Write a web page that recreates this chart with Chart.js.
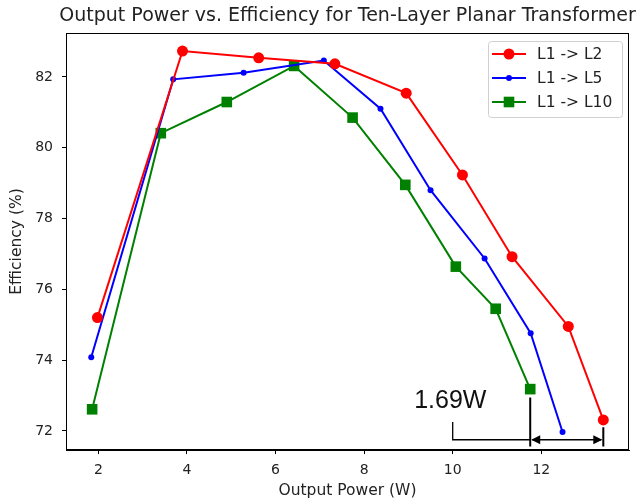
<!DOCTYPE html>
<html>
<head>
<meta charset="utf-8">
<script src="https://cdn.jsdelivr.net/npm/chart.js@4/dist/chart.umd.min.js"></script>
<style>
  html, body { margin: 0; padding: 0; background: #fff; }
  #wrap { width: 639px; height: 504px; }
</style>
</head>
<body>
<div id="wrap"><canvas id="chart"></canvas></div>
<script>
// ---- data ----
const seriesNames = ['L1 -> L2', 'L1 -> L5', 'L1 -> L10'];

const powerL2  = [1.98, 3.90, 5.62, 7.34, 8.95, 10.22, 11.34, 12.61, 13.40];
const effL2    = [75.20, 82.73, 82.54, 82.37, 81.54, 79.23, 76.92, 74.95, 72.31];

const powerL5  = [1.84, 3.69, 5.28, 7.09, 8.37, 9.50, 10.72, 11.76, 12.48];
const effL5    = [74.08, 81.93, 82.12, 82.46, 81.10, 78.80, 76.87, 74.76, 71.97];

const powerL10 = [1.86, 3.41, 4.90, 6.42, 7.74, 8.93, 10.07, 10.97, 11.75];
const effL10   = [72.61, 80.41, 81.29, 82.31, 80.85, 78.95, 76.64, 75.45, 73.18];

const xTicks = [2, 4, 6, 8, 10, 12];
const yTicks = [72, 74, 76, 78, 80, 82];

// annotation: gap between L1->L10 and L1->L2 at the last point
const gapLabel = '1.69W';
const gapFrom = powerL10[powerL10.length - 1];
const gapTo = powerL2[powerL2.length - 1];

const FONT = "'DejaVu Sans', sans-serif";

function toPoints(xs, ys) {
    return xs.map((x, i) => ({ x: x, y: ys[i] }));
}

// frame, legend and the gap annotation
const extras = {
    id: 'extras',
    afterDatasetsDraw(chart) {
        const { ctx, chartArea: a, scales: { x, y } } = chart;
        ctx.save();

        // box round the plot
        ctx.strokeStyle = '#000';
        ctx.lineWidth = 1;
        ctx.strokeRect(a.left + 0.5, a.top + 0.5, a.right - a.left - 1, a.bottom - a.top - 1);

        // gap annotation
        const px1 = x.getPixelForValue(gapFrom);
        const px2 = x.getPixelForValue(gapTo);
        const px0 = x.getPixelForValue(10);
        const yArrow = y.getPixelForValue(71.75);
        ctx.strokeStyle = '#000';
        ctx.fillStyle = '#000';
        ctx.lineWidth = 2;
        ctx.beginPath();
        ctx.moveTo(px1, y.getPixelForValue(72.94));
        ctx.lineTo(px1, y.getPixelForValue(71.56));
        ctx.moveTo(px2, y.getPixelForValue(72.10));
        ctx.lineTo(px2, y.getPixelForValue(71.56));
        ctx.stroke();
        ctx.lineWidth = 1.3;
        ctx.beginPath();
        ctx.moveTo(px0, y.getPixelForValue(72.25));
        ctx.lineTo(px0, yArrow);
        ctx.lineTo(px1, yArrow);
        ctx.moveTo(px1 + 2, yArrow);
        ctx.lineTo(px2 - 2, yArrow);
        ctx.stroke();
        // arrow heads
        ctx.beginPath();
        ctx.moveTo(px1 + 1, yArrow);
        ctx.lineTo(px1 + 10, yArrow - 4.5);
        ctx.lineTo(px1 + 10, yArrow + 4.5);
        ctx.closePath();
        ctx.moveTo(px2 - 1, yArrow);
        ctx.lineTo(px2 - 10, yArrow - 4.5);
        ctx.lineTo(px2 - 10, yArrow + 4.5);
        ctx.closePath();
        ctx.fill();

        ctx.font = "25px 'Liberation Sans', sans-serif";
        ctx.textAlign = 'left';
        ctx.textBaseline = 'alphabetic';
        ctx.fillStyle = '#111';
        ctx.fillText(gapLabel, x.getPixelForValue(9.13), y.getPixelForValue(72.65));

        // legend
        const lx = 488, ly = 41, lw = 134, lh = 76;
        ctx.fillStyle = 'rgba(255,255,255,0.8)';
        ctx.strokeStyle = '#d0d0d0';
        ctx.lineWidth = 1;
        ctx.beginPath();
        ctx.roundRect(lx + 0.5, ly + 0.5, lw, lh, 3);
        ctx.fill();
        ctx.stroke();

        ctx.font = '15.5px ' + FONT;
        ctx.textBaseline = 'middle';
        chart.data.datasets.forEach((ds, i) => {
            const ey = 54 + i * 24;
            ctx.strokeStyle = ds.borderColor;
            ctx.lineWidth = 2;
            ctx.beginPath();
            ctx.moveTo(492, ey);
            ctx.lineTo(526, ey);
            ctx.stroke();
            ctx.fillStyle = ds.pointBackgroundColor;
            Chart.helpers.drawPoint(ctx, {
                pointStyle: ds.pointStyle,
                radius: ds.pointRadius,
                rotation: 0,
                borderWidth: 0
            }, 509, ey);
            ctx.fillStyle = '#222';
            ctx.fillText(ds.label, 537, ey + 1);
        });

        ctx.restore();
    }
};

new Chart(document.getElementById('chart'), {
    type: 'scatter',
    data: {
        datasets: [
            {
                label: seriesNames[0],
                data: toPoints(powerL2, effL2),
                showLine: true,
                borderColor: '#ff0000',
                backgroundColor: '#ff0000',
                pointBackgroundColor: '#ff0000',
                pointBorderColor: '#ff0000',
                borderWidth: 2,
                pointStyle: 'circle',
                pointRadius: 5.5,
                pointBorderWidth: 0,
                tension: 0
            },
            {
                label: seriesNames[1],
                data: toPoints(powerL5, effL5),
                showLine: true,
                borderColor: '#0000ff',
                backgroundColor: '#0000ff',
                pointBackgroundColor: '#0000ff',
                pointBorderColor: '#0000ff',
                borderWidth: 2,
                pointStyle: 'circle',
                pointRadius: 3,
                pointBorderWidth: 0,
                tension: 0
            },
            {
                label: seriesNames[2],
                data: toPoints(powerL10, effL10),
                showLine: true,
                borderColor: '#008000',
                backgroundColor: '#008000',
                pointBackgroundColor: '#008000',
                pointBorderColor: '#008000',
                borderWidth: 2,
                pointStyle: 'rect',
                pointRadius: 7.5,
                pointBorderWidth: 0,
                tension: 0
            }
        ]
    },
    options: {
        responsive: true,
        maintainAspectRatio: false,
        animation: false,
        devicePixelRatio: 1,
        layout: { padding: { top: 33, right: 10, left: 0, bottom: 0 } },
        plugins: {
            legend: { display: false },
            tooltip: { enabled: false },
            title: { display: false }
        },
        scales: {
            x: {
                type: 'linear',
                min: 1.27,
                max: 13.98,
                afterFit: s => { s.height = 54; },
                afterBuildTicks: s => { s.ticks = xTicks.map(v => ({ value: v })); },
                grid: { drawOnChartArea: false, drawTicks: true, tickLength: 4, color: '#000' },
                border: { color: '#000' },
                ticks: { color: '#222', font: { family: FONT, size: 14 }, padding: 8, maxRotation: 0 },
                title: {
                    display: true,
                    text: 'Output Power (W)',
                    color: '#222',
                    font: { family: FONT, size: 15.5 },
                    padding: { top: 0, bottom: 4 }
                }
            },
            y: {
                type: 'linear',
                min: 71.46,
                max: 83.24,
                afterFit: s => { s.width = 66; },
                afterBuildTicks: s => { s.ticks = yTicks.map(v => ({ value: v })); },
                grid: { drawOnChartArea: false, drawTicks: true, tickLength: 4, color: '#000' },
                border: { color: '#000' },
                ticks: { color: '#222', font: { family: FONT, size: 14 }, padding: 9 },
                title: {
                    display: true,
                    text: 'Efficiency (%)',
                    color: '#222',
                    font: { family: FONT, size: 15.5 },
                    padding: { top: 8, bottom: 0 }
                }
            }
        }
    },
    plugins: [extras, {
        id: 'heading',
        afterDraw(chart) {
            const { ctx, chartArea: a } = chart;
            ctx.save();
            ctx.font = '19px ' + FONT;
            ctx.fillStyle = '#222';
            ctx.textAlign = 'center';
            ctx.textBaseline = 'middle';
            ctx.fillText('Output Power vs. Efficiency for Ten-Layer Planar Transformer', (a.left + a.right) / 2, 16);
            ctx.restore();
        }
    }]
});
</script>
</body>
</html>
